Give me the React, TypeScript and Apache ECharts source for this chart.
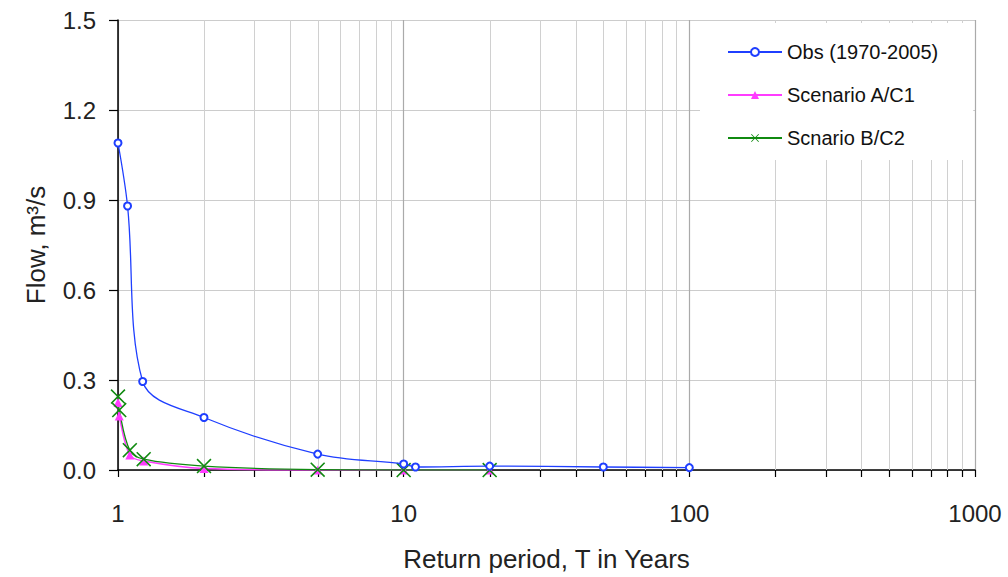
import React, { useEffect, useRef } from "react";
import * as echarts from "echarts";

// Data
const obsT = [1, 1.08, 1.22, 2, 5, 10, 11, 20, 50, 100];
const obsFlow = [1.09, 0.88, 0.295, 0.175, 0.053, 0.02, 0.01, 0.013, 0.01, 0.008];
const scenAT = [1, 1.01, 1.1, 1.23, 2, 5, 10, 20];
const scenAFlow = [0.225, 0.18, 0.05, 0.03, 0.005, 0.0, 0.0, 0.0];
const scenBT = [1, 1.01, 1.1, 1.23, 2, 5, 10, 20];
const scenBFlow = [0.245, 0.2, 0.066, 0.036, 0.013, 0.001, 0.0, 0.0];
const seriesNames = ["Obs (1970-2005)", "Scenario A/C1", "Scnario B/C2"];
const minorXValues = [2, 3, 4, 5, 6, 7, 8, 9, 20, 30, 40, 50, 60, 70, 80, 90, 200, 300, 400, 500, 600, 700, 800, 900];

const FONT = "Liberation Sans, Arial, sans-serif";
const CROSS =
  "path://M0,1.5L1.5,0L10,8.5L18.5,0L20,1.5L11.5,10L20,18.5L18.5,20L10,11.5L1.5,20L0,18.5L8.5,10Z";

const pairs = (xs: number[], ys: number[]) => xs.map((x, i) => [x, ys[i]]);

export default function App() {
  const ref = useRef<HTMLDivElement>(null);
  useEffect(() => {
    if (!ref.current) return;
    const chart = echarts.init(ref.current, undefined, { renderer: "svg" });
    const option: any = {
      animation: false,
      backgroundColor: "#ffffff",
      textStyle: { fontFamily: FONT },
      grid: { left: 118, right: 33, top: 20, bottom: 104, containLabel: false },
      legend: {
        orient: "vertical",
        left: 700,
        top: 23,
        backgroundColor: "#ffffff",
        padding: [18, 35, 11, 27],
        itemWidth: 54,
        itemHeight: 10,
        itemGap: 21,
        textStyle: { fontFamily: FONT, fontSize: 20, color: "#111", lineHeight: 22 },
        data: seriesNames,
      },
      xAxis: {
        type: "log",
        logBase: 10,
        min: 1,
        max: 1000,
        name: "Return period, T in Years",
        nameLocation: "middle",
        nameGap: 76,
        nameTextStyle: { fontFamily: FONT, fontSize: 26, color: "#222" },
        axisLine: { show: true, lineStyle: { color: "#000", width: 1.5 } },
        axisTick: { show: true, length: 7, lineStyle: { color: "#000", width: 1.2 } },
        axisLabel: {
          fontFamily: FONT,
          fontSize: 24,
          color: "#222",
          margin: 31,
          formatter: (v: number) => String(v),
        },
        splitLine: { show: true, lineStyle: { color: "#aaaaaa", width: 1.2 } },
        minorTick: { show: false },
      },
      yAxis: {
        type: "value",
        min: 0,
        max: 1.5,
        interval: 0.3,
        name: "Flow, m³/s",
        nameLocation: "middle",
        nameGap: 69,
        nameTextStyle: { fontFamily: FONT, fontSize: 26, color: "#222" },
        axisLine: { show: true, lineStyle: { color: "#000", width: 1.5 } },
        axisTick: { show: true, length: 9, lineStyle: { color: "#000", width: 1.2 } },
        axisLabel: {
          fontFamily: FONT,
          fontSize: 24,
          color: "#222",
          margin: 22,
          formatter: (v: number) => v.toFixed(1),
        },
        splitLine: { show: true, lineStyle: { color: "#cccccc", width: 1 } },
      },
      series: [
        {
          name: seriesNames[0],
          type: "line",
          data: pairs(obsT, obsFlow),
          smooth: 0.35,
          symbol: "emptyCircle",
          symbolSize: 7,
          lineStyle: { color: "#1f3fff", width: 1.3 },
          itemStyle: { color: "#1f3fff", borderWidth: 1.5 },
          z: 3,
        },
        {
          name: seriesNames[1],
          type: "line",
          data: pairs(scenAT, scenAFlow),
          smooth: 0.35,
          symbol: "triangle",
          symbolSize: 9,
          lineStyle: { color: "#ff3cff", width: 1.5 },
          itemStyle: { color: "#ff3cff" },
          z: 2,
        },
        {
          name: seriesNames[2],
          type: "line",
          data: pairs(scenBT, scenBFlow),
          smooth: 0.35,
          symbol: CROSS,
          symbolSize: 15,
          lineStyle: { color: "#108a10", width: 1.3 },
          itemStyle: { color: "#108a10" },
          z: 2,
        },
      ],
    };
    chart.setOption(option);

    const yTop = chart.convertToPixel({ yAxisIndex: 0 }, 1.5) as number;
    const yBot = chart.convertToPixel({ yAxisIndex: 0 }, 0) as number;
    const els: any[] = [];
    minorXValues.forEach((v) => {
      const px = chart.convertToPixel({ xAxisIndex: 0 }, v) as number;
      const x = Math.round(px) + 0.5;
      els.push({
        type: "line",
        silent: true,
        z: 1,
        shape: { x1: x, y1: yTop, x2: x, y2: yBot },
        style: { stroke: "#d0d0d0", lineWidth: 1 },
      });
      els.push({
        type: "line",
        silent: true,
        z: 1,
        shape: { x1: x, y1: yBot, x2: x, y2: yBot + 7 },
        style: { stroke: "#000", lineWidth: 1.2 },
      });
    });
    chart.setOption({ graphic: { elements: els } });

    return () => chart.dispose();
  }, []);
  return (
    <div
      ref={ref}
      style={{ position: "fixed", left: 0, top: 0, width: 1008, height: 577, background: "#fff" }}
    />
  );
}
